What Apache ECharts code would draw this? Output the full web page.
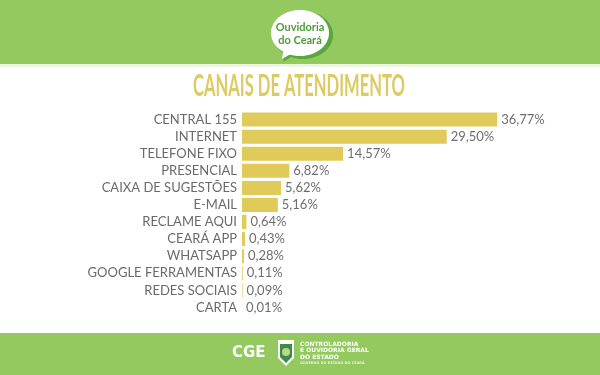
<!DOCTYPE html>
<html><head><meta charset="utf-8">
<script src="https://cdn.jsdelivr.net/npm/echarts@6/dist/echarts.min.js"></script>
<style>html,body{margin:0;padding:0;background:#fff}#c{width:600px;height:375px}</style>
</head><body><div id="c"></div>
<script>
const categories = ["CENTRAL 155","INTERNET","TELEFONE FIXO","PRESENCIAL","CAIXA DE SUGESTÕES","E-MAIL","RECLAME AQUI","CEARÁ APP","WHATSAPP","GOOGLE FERRAMENTAS","REDES SOCIAIS","CARTA"];
const values = [36.77,29.50,14.57,6.82,5.62,5.16,0.64,0.43,0.28,0.11,0.09,0.01];
const titleText = "CANAIS DE ATENDIMENTO";

const titleFont = 'bold 30px Lato';
const mctx = document.createElement('canvas').getContext('2d');
mctx.font = titleFont;
const titleW = mctx.measureText(titleText).width;
const titleScale = 212 / titleW;

const chart = echarts.init(document.getElementById('c'), null, {renderer:'canvas'});
const green = '#93c95e';
chart.setOption({
  backgroundColor:'#ffffff',
  animation:false,
  grid:{left:242,right:11,top:111,bottom:59,containLabel:false},
  xAxis:{type:'value',min:0,max:50,show:false},
  yAxis:{type:'category',data:categories,inverse:true,
    axisLine:{show:false},axisTick:{show:false},
    axisLabel:{margin:5,fontFamily:'Lato',fontSize:13,color:'#6a6a6a'}},
  series:[{type:'bar',data:values,barWidth:14,itemStyle:{color:'#dfca5a'},
    label:{show:true,position:'right',distance:4,fontFamily:'Lato',fontSize:13,color:'#6e6e72',
      formatter:p=>p.value.toFixed(2).replace('.',',')+'%'}}],
  graphic:[
    {type:'rect',shape:{x:0,y:0,width:600,height:64},style:{fill:green},z:-1},
    {type:'rect',shape:{x:0,y:64,width:600,height:3},style:{fill:'#eef6e2'},z:-1},
    {type:'rect',shape:{x:0,y:333,width:600,height:42},style:{fill:green},z:-1},
    // title
    {type:'text',x:299,y:86,scaleX:titleScale,scaleY:1,
      style:{x:0,y:0,text:titleText,align:'center',verticalAlign:'middle',font:titleFont,fill:'#dccb62'}},
    // logo bubble
    {type:'ellipse',shape:{cx:303,cy:35,rx:30,ry:24},style:{fill:'#5aa83c'}},
    {type:'polygon',shape:{points:[[285,50],[283,62],[296,54]]},style:{fill:'#5aa83c'}},
    {type:'ellipse',shape:{cx:300,cy:33,rx:29,ry:23},style:{fill:'#ffffff'}},
    {type:'polygon',shape:{points:[[284,48],[282,59],[294,52]]},style:{fill:'#ffffff'}},
    {type:'text',style:{x:300,y:27,text:'Ouvidoria',align:'center',verticalAlign:'middle',font:'bold 11px Lato',fill:'#4e9b3c'}},
    {type:'text',style:{x:300,y:40,text:'do Ceará',align:'center',verticalAlign:'middle',font:'bold 11px Lato',fill:'#4e9b3c'}},
    // footer
    {type:'text',style:{x:232,y:353,text:'CGE',align:'left',verticalAlign:'middle',font:'bold 15px "DejaVu Sans"',fill:'#ffffff'}},
    {type:'polygon',shape:{points:[[278,340],[294,340],[294,358],[286,366],[278,358]]},style:{fill:'#ffffff'}},
    {type:'polygon',shape:{points:[[280,344],[292,344],[292,357],[286,363],[280,357]]},style:{fill:'#3d8a4a'}},
    {type:'circle',shape:{cx:286,cy:352,r:4},style:{fill:'#b9d98a'}},
    {type:'text',style:{x:300,y:344,text:'CONTROLADORIA',verticalAlign:'middle',font:'bold 6px "DejaVu Sans"',fill:'#ffffff'}},
    {type:'text',style:{x:300,y:350.5,text:'E OUVIDORIA GERAL',verticalAlign:'middle',font:'bold 6px "DejaVu Sans"',fill:'#ffffff'}},
    {type:'text',style:{x:300,y:357,text:'DO ESTADO',verticalAlign:'middle',font:'bold 6px "DejaVu Sans"',fill:'#ffffff'}},
    {type:'text',style:{x:300,y:363,text:'GOVERNO DO ESTADO DO CEARÁ',verticalAlign:'middle',font:'bold 3.5px "DejaVu Sans"',fill:'#e8f3da'}}
  ]
});
</script></body></html>
